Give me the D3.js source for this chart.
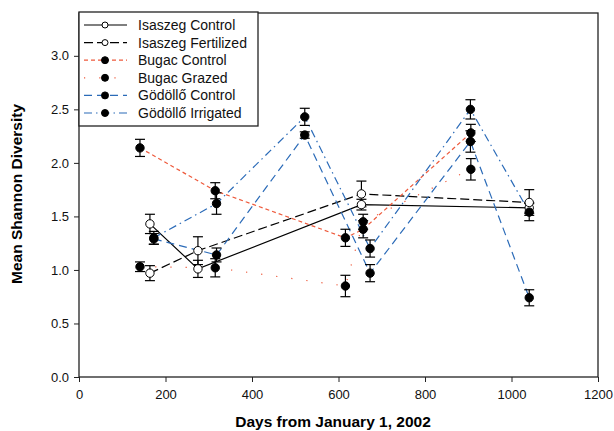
<!DOCTYPE html>
<html><head><meta charset="utf-8">
<script src="https://cdn.jsdelivr.net/npm/d3@7"></script>
<style>body{margin:0;background:#fff}text{font-family:Arial,"Liberation Sans",sans-serif}</style>
</head><body><svg id="c" width="614" height="431"></svg>
<script>
const seriesNames = ["Isaszeg Control","Isaszeg Fertilized","Bugac Control","Bugac Grazed","Gödöllő Control","Gödöllő Irrigated"];
const isaszegDays = [164, 275, 653, 1041];
const isaszegControl = [1.43, 1.01, 1.61, 1.58];
const isaszegControlErr = [0.09, 0.08, 0.05, 0.05];
const isaszegFert = [0.97, 1.18, 1.71, 1.63];
const isaszegFertErr = [0.07, 0.13, 0.12, 0.12];
const bugacDays = [141, 315, 616, 657, 906];
const bugacControl = [2.14, 1.74, 1.30, 1.38, 2.28];
const bugacControlErr = [0.08, 0.075, 0.08, 0.08, 0.08];
const bugacGrazed = [1.03, 1.02, 0.85, 1.45, 1.94];
const bugacGrazedErr = [0.045, 0.085, 0.1, 0.07, 0.1];
const godolloDays = [173, 318, 522, 673, 905, 1041];
const godolloControl = [1.29, 1.14, 2.26, 0.97, 2.20, 0.74];
const godolloControlErr = [0.05, 0.065, 0.03, 0.08, 0.1, 0.075];
const godolloIrr = [1.30, 1.62, 2.43, 1.20, 2.50, 1.54];
const godolloIrrErr = [0.06, 0.1, 0.08, 0.08, 0.09, 0.08];
const xTicks = [0,200,400,600,800,1000,1200];
const yTicks = [0,0.5,1.0,1.5,2.0,2.5,3.0];

const orange = "#ee5a3c", blue = "#2b6bb8";
const styles = [
  {color:"#000", dash:null, open:true},
  {color:"#000", dash:"9,4", open:true},
  {color:orange, dash:"4,3", open:false},
  {color:orange, dash:"1.2,14", open:false},
  {color:blue, dash:"8,5", open:false},
  {color:blue, dash:"8,4,1.5,4", open:false}
];
const series = [
  {days:isaszegDays, v:isaszegControl, e:isaszegControlErr},
  {days:isaszegDays, v:isaszegFert, e:isaszegFertErr},
  {days:bugacDays, v:bugacControl, e:bugacControlErr},
  {days:bugacDays, v:bugacGrazed, e:bugacGrazedErr},
  {days:godolloDays, v:godolloControl, e:godolloControlErr},
  {days:godolloDays, v:godolloIrr, e:godolloIrrErr}
].map((s,i)=>({name:seriesNames[i], ...styles[i], pts:s.days.map((d,j)=>({x:d,y:s.v[j],e:s.e[j]}))}));

const m = {l:79, r:598, t:13, b:377};
const x = d3.scaleLinear().domain([0,1200]).range([m.l,m.r]);
const y = d3.scaleLinear().domain([0,3.4]).range([m.b,m.t]);
const svg = d3.select("#c");

// axes
svg.append("g").attr("transform",`translate(0,${m.b})`)
  .call(d3.axisBottom(x).tickValues(xTicks).tickSize(5).tickPadding(8).tickFormat(d3.format("d")))
  .call(g=>{g.select(".domain").remove();g.selectAll("text").attr("font-size",13).attr("fill","#111");g.selectAll("line").attr("stroke","#222");});
svg.append("g").attr("transform",`translate(${m.l},0)`)
  .call(d3.axisLeft(y).tickValues(yTicks).tickSize(5).tickPadding(5).tickFormat(d3.format(".1f")))
  .call(g=>{g.select(".domain").remove();g.selectAll("text").attr("font-size",13).attr("fill","#111");g.selectAll("line").attr("stroke","#222");});
svg.append("rect").attr("x",m.l).attr("y",m.t).attr("width",m.r-m.l).attr("height",m.b-m.t)
  .attr("fill","none").attr("stroke","#222").attr("stroke-width",1.3);

const line = d3.line().x(d=>x(d.x)).y(d=>y(d.y));
series.forEach(s=>{
  svg.append("path").attr("d",line(s.pts)).attr("fill","none").attr("stroke",s.color)
    .attr("stroke-width",1.2).attr("stroke-dasharray",s.dash);
});
series.forEach(s=>{
  const g = svg.append("g").attr("stroke","#000").attr("stroke-width",1.2);
  s.pts.forEach(p=>{
    g.append("line").attr("x1",x(p.x)).attr("x2",x(p.x)).attr("y1",y(p.y-p.e)).attr("y2",y(p.y+p.e));
    [p.y-p.e,p.y+p.e].forEach(v=>g.append("line").attr("x1",x(p.x)-5).attr("x2",x(p.x)+5).attr("y1",y(v)).attr("y2",y(v)));
  });
});
series.forEach(s=>{
  svg.append("g").selectAll("circle").data(s.pts).join("circle")
    .attr("cx",d=>x(d.x)).attr("cy",d=>y(d.y)).attr("r",4.2)
    .attr("fill",s.open?"#fff":"#000").attr("stroke","#000").attr("stroke-width",1);
});

// legend
const lg = svg.append("g");
lg.append("rect").attr("x",79).attr("y",12).attr("width",179).attr("height",114)
  .attr("fill","#fff").attr("stroke","#222").attr("stroke-width",1.3);
series.forEach((s,i)=>{
  const yy = 25 + i*17.6;
  lg.append("line").attr("x1",84).attr("x2",127).attr("y1",yy).attr("y2",yy)
    .attr("stroke",s.color).attr("stroke-width",1.2).attr("stroke-dasharray",s.dash);
  lg.append("circle").attr("cx",105).attr("cy",yy).attr("r",s.open?3:3.5)
    .attr("fill",s.open?"#fff":"#000").attr("stroke","#000");
  lg.append("text").attr("x",138).attr("y",yy+5).attr("font-size",14).attr("fill","#111").text(s.name);
});

svg.append("text").attr("x",333).attr("y",427).attr("text-anchor","middle")
  .attr("font-size",15.5).attr("font-weight","bold").text("Days from January 1, 2002");
svg.append("text").attr("transform","translate(22,194) rotate(-90)").attr("text-anchor","middle")
  .attr("font-size",15.5).attr("font-weight","bold").text("Mean Shannon Diversity");
</script></body></html>
